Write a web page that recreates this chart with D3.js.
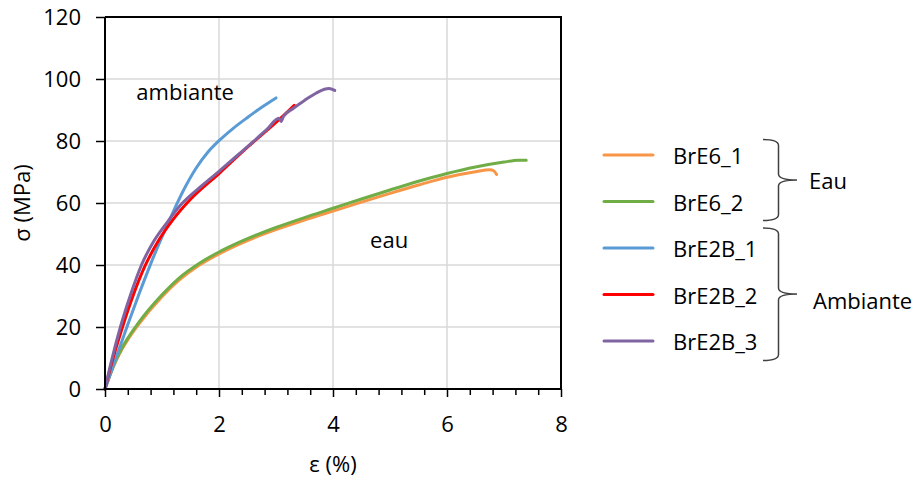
<!DOCTYPE html>
<html>
<head>
<meta charset="utf-8">
<script src="https://cdn.jsdelivr.net/npm/d3@7"></script>
<style>
  html, body { margin: 0; padding: 0; background: #fff; }
  svg { display: block; font-family: "Open Sans", sans-serif; }
</style>
</head>
<body>
<svg id="chart" width="920" height="479"></svg>
<script>
// ---- data (strain %, stress MPa) ----
const seriesNames = ["BrE6_1", "BrE6_2", "BrE2B_1", "BrE2B_2", "BrE2B_3"];
const seriesColors = ["#F79646", "#70AD47", "#5B9BD5", "#FF0000", "#8064A2"];

const BrE6_1 = [[0,0],[0.1,5.0],[0.2,9.3],[0.3,12.9],[0.4,15.9],[0.58,20.6],[1.0,29.8],[1.3,35.1],[1.65,39.9],[2.0,43.6],[2.5,47.9],[3.0,51.4],[3.5,54.5],[4.0,57.4],[4.5,60.3],[5.0,63.1],[5.5,65.8],[6.0,68.3],[6.5,70.1],[6.75,70.7],[6.82,70.4],[6.87,69.2]];
const BrE6_2 = [[0,0],[0.1,5.2],[0.2,9.6],[0.3,13.3],[0.4,16.4],[0.58,21.2],[1.0,30.4],[1.3,35.8],[1.65,40.5],[2.0,44.2],[2.5,48.5],[3.0,52.1],[3.5,55.3],[4.0,58.3],[4.5,61.3],[5.0,64.2],[5.5,67.0],[6.0,69.5],[6.5,71.6],[7.0,73.2],[7.25,73.8],[7.39,73.8]];
const BrE2B_1 = [[0,0],[0.2,10.4],[0.4,20.8],[0.6,30.8],[0.8,40.3],[1.0,49.1],[1.2,57.3],[1.4,64.9],[1.6,71.3],[1.8,76.3],[2.0,80.1],[2.25,84.1],[2.5,87.6],[2.75,90.9],[3.0,93.9]];
const BrE2B_2 = [[0,0],[0.1,7.2],[0.3,19.6],[0.5,30.5],[0.7,39.6],[0.95,48.2],[1.2,54.8],[1.5,61.2],[2.0,69.5],[2.5,78],[3.0,86],[3.15,88.5],[3.32,91.5]];
const BrE2B_3 = [[0,0],[0.1,8],[0.27,20],[0.45,30.5],[0.64,40],[0.85,47.5],[1.1,54],[1.35,59.8],[1.7,65.6],[2.0,70.2],[2.3,75],[2.6,79.8],[2.85,83.9],[3.05,87.3],[3.09,86.3],[3.13,87.9],[3.3,90.5],[3.5,93.1],[3.7,95.4],[3.85,96.7],[3.93,96.9],[4.03,96.3]];
const seriesData = [BrE6_1, BrE6_2, BrE2B_1, BrE2B_2, BrE2B_3];

const xTicks = [0, 2, 4, 6, 8];
const xMinorTicks = [0.4,0.8,1.2,1.6,2.4,2.8,3.2,3.6,4.4,4.8,5.2,5.6,6.4,6.8,7.2,7.6];
const yTicks = [0, 20, 40, 60, 80, 100, 120];
const xTitle = "ε (%)";
const yTitle = "σ (MPa)";
const annotations = [{text: "ambiante", x: 0.55, y: 96}, {text: "eau", x: 4.65, y: 48.5}];
const groups = [{label: "Eau", members: [0, 1]}, {label: "Ambiante", members: [2, 3, 4]}];

// ---- layout ----
const svg = d3.select("#chart");
const L = 105, R = 561, T = 17, B = 389;
const x = d3.scaleLinear().domain([0, 8]).range([L, R]);
const y = d3.scaleLinear().domain([0, 120]).range([B, T]);
const FS = 22;

// gridlines
svg.append("g").selectAll("line").data(yTicks.filter(d => d > 0 && d < 120)).join("line")
  .attr("x1", L).attr("x2", R).attr("y1", d => y(d)).attr("y2", d => y(d))
  .attr("stroke", "#d9d9d9").attr("stroke-width", 1.5);
svg.append("g").selectAll("line").data(xTicks.filter(d => d > 0 && d < 8)).join("line")
  .attr("y1", T).attr("y2", B).attr("x1", d => x(d)).attr("x2", d => x(d))
  .attr("stroke", "#d9d9d9").attr("stroke-width", 1.5);

// series
const line = d3.line().x(d => x(d[0])).y(d => y(d[1])).curve(d3.curveMonotoneX);
seriesData.forEach((data, i) => {
  svg.append("path").datum(data).attr("d", line)
    .attr("fill", "none").attr("stroke", seriesColors[i])
    .attr("stroke-width", 3).attr("stroke-linejoin", "round").attr("stroke-linecap", "round");
});

// frame (top, right)
svg.append("path").attr("d", `M${L},${T}H${R}V${B}`).attr("fill", "none")
  .attr("stroke", "#000").attr("stroke-width", 2);

// axes
const yAxis = svg.append("g").attr("transform", `translate(${L},0)`)
  .call(d3.axisLeft(y).tickValues(yTicks).tickSize(9).tickPadding(15).tickFormat(d3.format("d")));
const xMinor = svg.append("g").attr("transform", `translate(0,${B})`)
  .call(d3.axisBottom(x).tickValues(xMinorTicks).tickSize(6).tickFormat(""));
xMinor.select(".domain").remove();
const xAxis = svg.append("g").attr("transform", `translate(0,${B})`)
  .call(d3.axisBottom(x).tickValues(xTicks).tickSize(8).tickPadding(19).tickFormat(d3.format("d")));
[yAxis, xAxis, xMinor].forEach(g => {
  g.selectAll("path.domain").attr("stroke", "#000").attr("stroke-width", 2);
  g.selectAll(".tick line").attr("stroke", "#000").attr("stroke-width", 1.5);
  g.selectAll("text").attr("font-size", FS).attr("font-family", "Open Sans").attr("fill", "#000");
});
yAxis.select(".domain").attr("d", `M0,${T}V${B}`);
xAxis.select(".domain").attr("d", `M${L},0H${R}`);

// axis titles
svg.append("text").attr("x", (L + R) / 2).attr("y", 463).attr("text-anchor", "middle")
  .attr("dominant-baseline", "central").attr("font-size", FS).text(xTitle);
svg.append("text").attr("transform", `translate(21,${(T + B) / 2}) rotate(-90)`)
  .attr("text-anchor", "middle").attr("dominant-baseline", "central").attr("font-size", FS).text(yTitle);

// annotations
annotations.forEach(a => {
  svg.append("text").attr("x", x(a.x)).attr("y", y(a.y)).attr("dominant-baseline", "central")
    .attr("font-size", FS).text(a.text);
});

// legend
const legY0 = 155, legStep = 46.5;
const leg = svg.append("g");
seriesNames.forEach((n, i) => {
  const ly = legY0 + i * legStep;
  leg.append("line").attr("x1", 604).attr("x2", 653).attr("y1", ly).attr("y2", ly)
    .attr("stroke", seriesColors[i]).attr("stroke-width", 3).attr("stroke-linecap", "round");
  leg.append("text").attr("x", 673).attr("y", ly).attr("dominant-baseline", "central")
    .attr("font-size", FS).text(n);
});

// braces
function brace(top, bot, xL, xV, xTip, tipY) {
  const r = 6;
  return `M${xL},${top} Q${xV},${top} ${xV},${top + r} V${tipY - r} Q${xV},${tipY} ${xTip},${tipY}` +
         ` Q${xV},${tipY} ${xV},${tipY + r} V${bot - r} Q${xV},${bot} ${xL},${bot}`;
}
const braceSpecs = [
  {top: 139.5, bot: 220.5, tip: 180, lx: 809, ly: 180},
  {top: 228, bot: 360.5, tip: 294, lx: 813, ly: 300}
];
groups.forEach((g, i) => {
  const b = braceSpecs[i];
  svg.append("path").attr("d", brace(b.top, b.bot, 763, 778.5, 797, b.tip))
    .attr("fill", "none").attr("stroke", "#404040").attr("stroke-width", 1.5);
  svg.append("text").attr("x", b.lx).attr("y", b.ly).attr("dominant-baseline", "central")
    .attr("font-size", FS).text(g.label);
});
</script>
</body>
</html>
